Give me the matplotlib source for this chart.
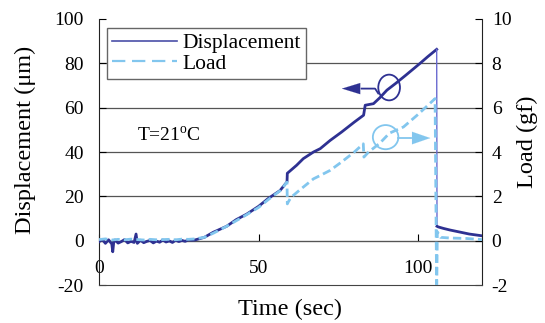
import numpy as np
import matplotlib
matplotlib.use("Agg")
import matplotlib.pyplot as plt
from matplotlib.lines import Line2D
from matplotlib.patches import Ellipse

plt.rcParams["font.family"] = ["Liberation Serif", "DejaVu Serif"]
plt.rcParams["mathtext.fontset"] = "custom"
plt.rcParams["mathtext.rm"] = "Liberation Serif"
plt.rcParams["axes.unicode_minus"] = False

# ── data ─────────────────────────────────────────────────────────────────────
# displacement (µm) vs time (s)
disp_t = [0, 1, 2, 3, 4, 4.3, 4.6, 5, 6, 7, 8, 9, 10, 11, 11.6, 12, 13, 14, 15,
          16, 17, 18, 19, 20, 21, 22, 23, 24, 25, 26, 27, 28, 29, 30,
          33, 35.8, 40, 43, 46.3, 50, 53, 56.7, 58.9, 59.0, 61.9, 64, 67.2,
          69.3, 72.4, 76, 80, 82.9, 83.4, 86, 88, 90.2, 93, 96, 100.6, 103, 105.8,
          105.9, 106.3, 108, 110, 112, 114, 116, 118, 120]
disp_v = [-0.5, 0.6, -1.2, 0.4, -1.5, -5.0, -0.8, 0.3, -1.1, -0.4, 0.5, -1.0, -0.3, -0.8, 3.0, -1.2,
          0.2, -0.9, -0.3, 0.1, -1.0, -0.2, -0.7, 0.3, -0.6, -0.1, -0.8, 0.2, -0.4, 0.1, -0.3,
          0.4, 0.2, 0.3,
          1.5, 3.8, 6.5, 9.5, 12.0, 15.5, 19.0, 22.6, 26.5, 30.4, 34.0, 37.0, 40.0,
          41.5, 45.2, 49.0, 53.5, 56.6, 61.1, 61.8, 64.5, 67.9, 71.0, 74.5, 80.0, 83.0, 86.3,
          6.5, 6.2, 5.5, 4.8, 4.2, 3.6, 3.0, 2.6, 2.2]
DROP_IDX = disp_t.index(105.8)

# load (gf) vs time (s)
load_t = [0, 2, 4, 6, 8, 10, 12, 14, 16, 18, 20, 22, 24, 26, 28, 30,
          33, 36, 40, 43, 46, 50, 53, 56.7, 58.9, 59.0, 59.3, 60.2, 63, 67.2,
          69.3, 72.4, 76, 80, 82.8, 83.0, 84.4, 88, 91, 95.4, 100, 105.3,
          105.8, 106.0, 107, 110, 115, 120]
load_v = [0.05, 0.08, 0.03, 0.06, 0.04, 0.07, 0.05, 0.03, 0.06, 0.04, 0.05, 0.06, 0.04, 0.07, 0.06, 0.08,
          0.15, 0.35, 0.65, 0.9, 1.15, 1.5, 1.85, 2.25, 2.64, 1.66, 1.75, 1.96, 2.3, 2.79,
          2.94, 3.17, 3.55, 4.0, 4.37, 3.77, 3.99, 4.4, 4.85, 5.13, 5.7, 6.41,
          -2.5, 0.4, 0.15, 0.12, 0.1, 0.05]

x_ticks = [0, 50, 100]
left_ticks = [-20, 0, 20, 40, 60, 80, 100]
right_ticks = [-2, 0, 2, 4, 6, 8, 10]

DISP_C = "#2e3192"
DISP_THIN = "#6a6ad0"
LOAD_C = "#82c6ee"

fig = plt.figure(figsize=(5.45, 3.23), dpi=100)
ax = fig.add_axes([0.1817, 0.1176, 0.7027, 0.8236])
ax2 = ax.twinx()

ax.set_xlim(0, 120)
ax.set_ylim(-20, 100)
ax2.set_ylim(-2, 10)

# horizontal gridlines
for v in left_ticks:
    if -20 < v < 100:
        ax.axhline(v, color="#555555", lw=0.9, zorder=0)

# displacement: thick noisy trace, thin drop line
ax.plot(disp_t[:DROP_IDX + 1], disp_v[:DROP_IDX + 1], color=DISP_C, lw=2.0, zorder=3)
ax.plot(disp_t[DROP_IDX:DROP_IDX + 2], disp_v[DROP_IDX:DROP_IDX + 2], color=DISP_THIN, lw=1.0, zorder=3)
ax.plot(disp_t[DROP_IDX + 1:], disp_v[DROP_IDX + 1:], color=DISP_C, lw=2.0, zorder=3)

# load on right axis
ax2.plot(load_t, load_v, color=LOAD_C, lw=2.0, dashes=(3, 1.5), zorder=4)

# spines / axes styling
ax.spines["bottom"].set_position(("data", 0))
ax.spines["bottom"].set_color("#555555")
ax.spines["top"].set_visible(False)
ax.spines["right"].set_visible(False)
ax.spines["left"].set_color("#222222")
ax2.spines["top"].set_visible(False)
ax2.spines["left"].set_visible(False)
ax2.spines["right"].set_color("#222222")
ax2.spines["bottom"].set_color("#444444")

ax.set_xticks(x_ticks)
ax.set_yticks(left_ticks)
ax2.set_yticks(right_ticks)
ax.tick_params(axis="x", direction="in", length=5, pad=14, labelsize=14)
ax.tick_params(axis="y", direction="in", length=5, pad=11, labelsize=14)
ax2.tick_params(axis="y", direction="in", length=5, pad=7, labelsize=14)

ax.set_xlabel("Time (sec)", fontsize=17.5, va="center")
ax.set_ylabel("Displacement (μm)", fontsize=17.5, va="center", ha="center")
ax2.set_ylabel("Load (gf)", fontsize=17.5, va="center", ha="center", rotation=90)
ax.xaxis.set_label_coords((99 + 482) / 2 / 545, 1 - 309 / 323, transform=fig.transFigure)
ax.yaxis.set_label_coords(25 / 545, 1 - 140 / 323, transform=fig.transFigure)
ax2.yaxis.set_label_coords(527 / 545, 1 - 142 / 323, transform=fig.transFigure)

# annotation text
ax.text(11.8, 47.3, r"T=21$^{\mathrm{o}}$C", fontsize=14, va="center", ha="left")

# circles + arrows pointing to each series' axis
ax.add_patch(Ellipse((90.9, 69.1), 6.8, 11.6, fill=False, ec=DISP_C, lw=1.3, zorder=5))
ax.plot([87.5, 86.5, 82.3], [66.4, 68.6, 68.6], color=DISP_C, lw=1.3, zorder=5)
ax.annotate("", xy=(76.1, 68.6), xytext=(82.5, 68.6),
            arrowprops=dict(arrowstyle="-|>,head_length=1.3,head_width=0.4",
                            color=DISP_C, lw=0.1, shrinkA=0, shrinkB=0), zorder=5)

ax.add_patch(Ellipse((89.8, 46.7), 8.0, 10.9, fill=False, ec=LOAD_C, lw=1.3, zorder=5))
ax.plot([93.8, 97.6], [46.3, 46.3], color=LOAD_C, lw=1.3, zorder=5)
ax.annotate("", xy=(103.8, 46.3), xytext=(97.4, 46.3),
            arrowprops=dict(arrowstyle="-|>,head_length=1.3,head_width=0.45",
                            color=LOAD_C, lw=0.1, shrinkA=0, shrinkB=0), zorder=5)

# legend
handles = [Line2D([], [], color="#4a4fa8", lw=1.2),
           Line2D([], [], color=LOAD_C, lw=1.6, dashes=(6, 3))]
leg = ax.legend(handles, ["Displacement", "Load"], loc="upper left",
                bbox_to_anchor=(0.021, 0.966), borderaxespad=0, fontsize=15.5,
                frameon=True, fancybox=False, framealpha=1, edgecolor="#666666",
                handlelength=3.0, handletextpad=0.25, labelspacing=0.0,
                borderpad=0.25)
leg.get_frame().set_linewidth(1.0)
leg.set_zorder(10)

fig.savefig("out.png", dpi=100)
